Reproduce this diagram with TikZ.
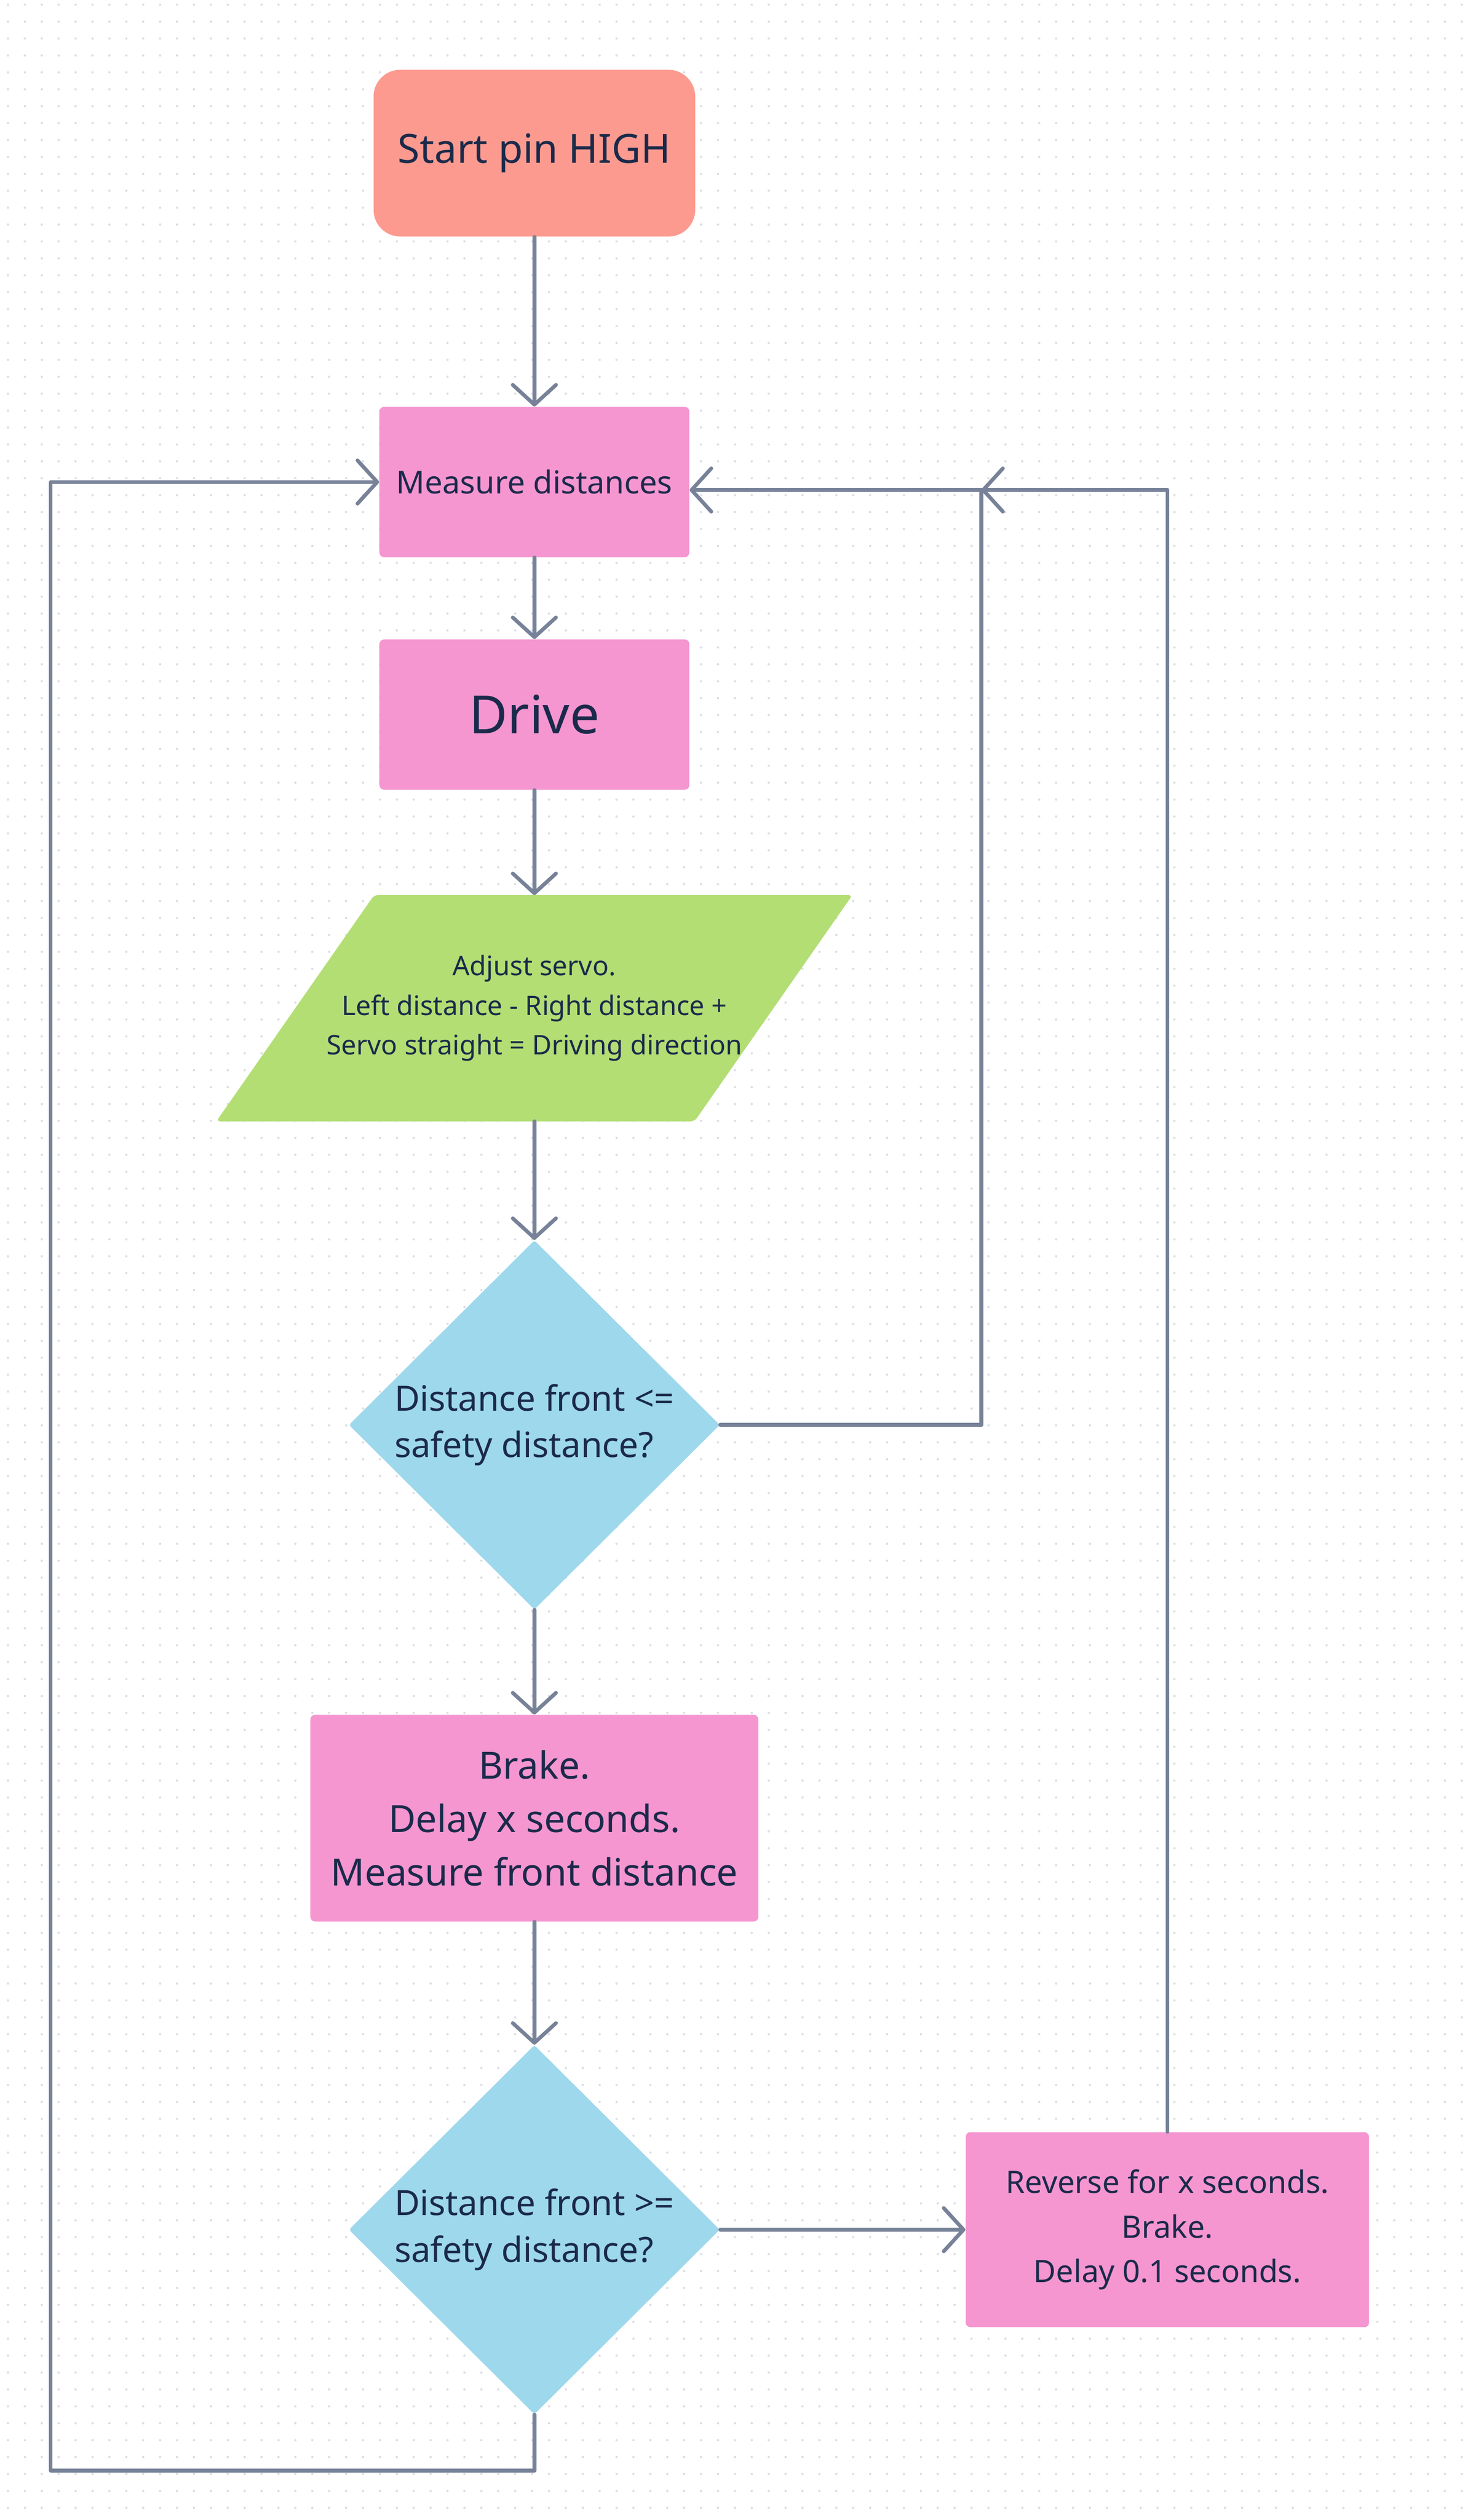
\documentclass[tikz,border=0pt]{standalone}
\usepackage{fontspec}
\setmainfont{Noto Sans}
\usepackage{tikz}
\usetikzlibrary{positioning, shapes.geometric}
\usetikzlibrary{calc, arrows.meta, backgrounds}
\definecolor{startcol}{HTML}{FC9A8F}
\definecolor{proccol}{HTML}{F596D0}
\definecolor{iocol}{HTML}{B3DE74}
\definecolor{deccol}{HTML}{9ED8EC}
\definecolor{linecol}{HTML}{778298}
\definecolor{textcol}{HTML}{1B2A4A}
\definecolor{dotcol}{HTML}{DCDEE4}
\tikzstyle{startstop} = [rectangle, rounded corners=0.57cm, minimum width=6.85cm, minimum height=3.55cm, text centered, fill=startcol, text=textcol, font=\fontsize{24.3}{29}\selectfont]
\tikzstyle{process} = [rectangle, rounded corners=0.1cm, minimum width=6.6cm, minimum height=3.2cm, text centered, align=center, fill=proccol, text=textcol]
\tikzstyle{io} = [rectangle, minimum width=10.17cm, minimum height=4.8cm, align=center, text=textcol, font=\fontsize{16.3}{23.9}\selectfont]
\tikzstyle{decision} = [diamond, rounded corners=0.05cm, minimum width=7.9cm, minimum height=7.86cm, inner sep=0pt, align=left, fill=deccol, text=textcol, font=\fontsize{21.1}{28.2}\selectfont]
\tikzstyle{arrow} = [line width=0.08cm, draw=linecol, line cap=round, line join=round, -{Straight Barb[length=0.42cm,width=0.92cm,round]}]
\tikzstyle{dotrow} = [dotcol, line width=0.05cm, line cap=round, dash pattern=on 0pt off 0.36cm]

\begin{document}
\begin{tikzpicture}[node distance=7cm]
		\useasboundingbox (0,0) rectangle (31.36,-53.64);
		% dotted paper
		\begin{scope}[on background layer]
			\fill[white] (0,0) rectangle (31.36,-53.64);
			\foreach \y in {0,...,148}
				\draw[dotrow] (0.17,{-0.10-0.36*\y}) -- (31.36,{-0.10-0.36*\y});
		\end{scope}
		\node (start) [startstop] at (11.38,-3.26) {Start pin HIGH};
		\node (measure) [process, below of=start, font=\fontsize{19.1}{23}\selectfont] {Measure distances};
		\node (drive) [process, below of=measure, yshift=2.05cm, font=\fontsize{31.9}{38}\selectfont] {Drive};
		\node (adjust) [io, below of=drive, yshift=0.75cm] {Adjust servo.\\Left distance - Right distance +\\Servo straight = Driving direction};
		\node (dec1) [decision, below of=adjust, yshift=-1.87cm] {Distance front <=\\safety distance?};
		\node (brake) [process, below of=dec1, yshift=-1.37cm, minimum width=9.54cm, minimum height=4.4cm, font=\fontsize{22.7}{32.4}\selectfont] {Brake.\\Delay x seconds.\\Measure front distance};
		\node (dec2) [decision, below of=brake, yshift=-1.76cm] {Distance front >=\\safety distance?};
		\node (reverse) [process, right of=dec2, xshift=6.48cm, minimum width=8.59cm, minimum height=4.15cm, font=\fontsize{18.7}{27}\selectfont] {Reverse for x seconds.\\Brake.\\Delay 0.1 seconds.};
		% parallelogram behind the servo text
		\begin{scope}[on background layer]
			\fill[iocol, rounded corners=0.08cm] ([xshift=-1.68cm]adjust.south west) -- ([xshift=-1.68cm]adjust.south east) -- ([xshift=1.68cm]adjust.north east) -- ([xshift=1.68cm]adjust.north west) -- cycle;
		\end{scope}
		\coordinate (jr) at ($(measure.east)+(6.21,-0.17)$);
		\coordinate (jl) at ($(dec2.south)+(-10.30,-1.19)$);
		\draw [arrow](start) -- (measure);
		\draw [arrow](measure) -- (drive);
		\draw [arrow](drive) -- (adjust);
		\draw [arrow](adjust) -- (dec1);
		\draw [arrow](dec1) -- (brake);
		\draw [arrow](brake) -- (dec2);
		\draw [arrow](dec2) -- (reverse);
		\draw [arrow](dec1.east) -| (jr) -- (jr -| measure.east);
		\draw [arrow](reverse.north) |- (jr);
		\draw [arrow](dec2.south) |- (jl) |- (measure.west);
	\end{tikzpicture}
\end{document}
